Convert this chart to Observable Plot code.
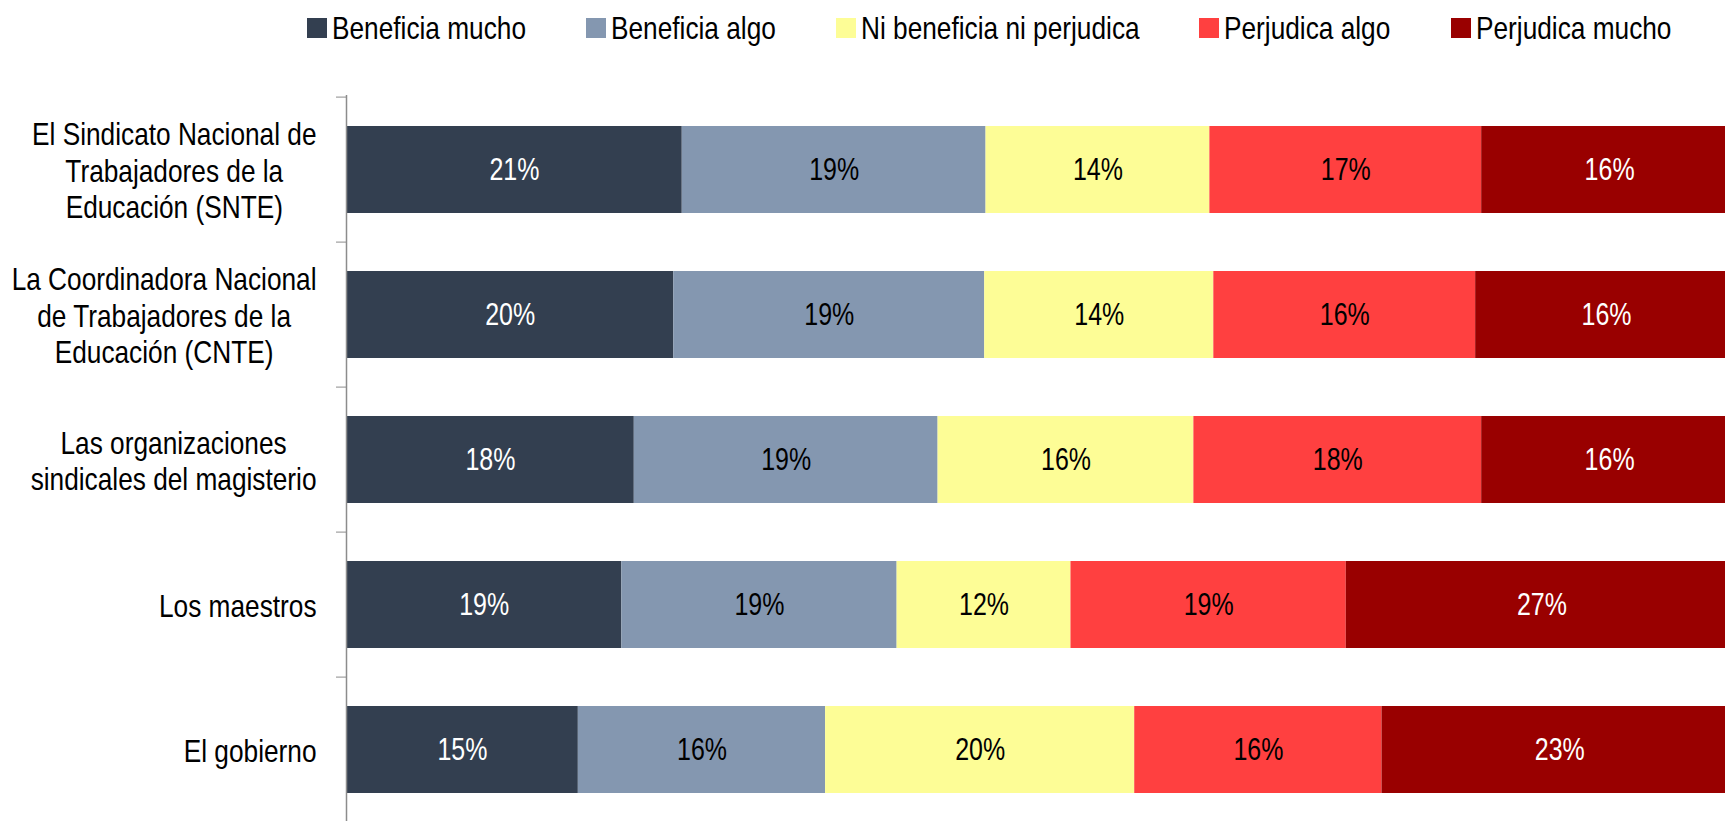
<!DOCTYPE html>
<html>
<head>
<meta charset="utf-8">
<script src="https://cdn.jsdelivr.net/npm/d3@7"></script>
<script src="https://cdn.jsdelivr.net/npm/@observablehq/plot@0.6"></script>
<style>
  html, body { margin: 0; padding: 0; background: white; overflow: hidden; }
  #legend { height: 56px; display: flex; align-items: center; padding-left: 307px; gap: 60px;
            font-family: "Liberation Sans", Arial, sans-serif; font-size: 32px; color: #000; }
  .item { display: flex; align-items: center; gap: 5px; white-space: nowrap; }
  .sw { width: 20px; height: 20px; display: inline-block; flex: none; }
  .lt { display: inline-block; overflow: visible; white-space: nowrap; }
  .lt span { display: inline-block; transform-origin: 0 50%; }
</style>
</head>
<body>
<div id="legend"></div>
<div id="chart"></div>
<script>
const FONT = '"Liberation Sans", Arial, sans-serif';
const K = 0.82;      // horizontal condensation to mimic a narrow face
const KVAL = 0.78;   // condensation for the in-bar values

const categories = [
  "El Sindicato Nacional de\nTrabajadores de la\nEducación (SNTE)",
  "La Coordinadora Nacional\nde Trabajadores de la\nEducación (CNTE)",
  "Las organizaciones\nsindicales del magisterio",
  "Los maestros",
  "El gobierno"
];
const series = ["Beneficia mucho", "Beneficia algo", "Ni beneficia ni perjudica", "Perjudica algo", "Perjudica mucho"];
const beneficiaMucho = [21, 20, 18, 19, 15];
const beneficiaAlgo  = [19, 19, 19, 19, 16];
const niBeneficia    = [14, 14, 16, 12, 20];
const perjudicaAlgo  = [17, 16, 18, 19, 16];
const perjudicaMucho = [16, 16, 16, 27, 23];
const colors = ["#333f50", "#8497b0", "#fdfd96", "#ff4040", "#990000"];
const whiteLabelSeries = new Set(["Beneficia mucho", "Perjudica mucho"]);

const seriesValues = [beneficiaMucho, beneficiaAlgo, niBeneficia, perjudicaAlgo, perjudicaMucho];
const data = [];
categories.forEach((cat, i) => {
  series.forEach((s, j) => data.push({cat, series: s, value: seriesValues[j][i]}));
});

const ctx = document.createElement("canvas").getContext("2d");
function measure(text, size) { ctx.font = `${size}px ${FONT}`; return ctx.measureText(text).width; }

// legend
const legendSize = 32;
const legend = document.getElementById("legend");
series.forEach((s, j) => {
  const it = document.createElement("div");
  it.className = "item";
  const sw = document.createElement("span");
  sw.className = "sw";
  sw.style.background = colors[j];
  const box = document.createElement("span");
  box.className = "lt";
  box.style.width = (measure(s, legendSize) * K) + "px";
  const t = document.createElement("span");
  t.textContent = s;
  t.style.transform = `scaleX(${K})`;
  box.appendChild(t);
  it.appendChild(sw); it.appendChild(box);
  legend.appendChild(it);
});

const width = 1725, height = 768, marginTop = 39, marginBottom = 0, marginLeft = 346, marginRight = -12;
const step = (height - marginTop - marginBottom) / categories.length;
const labelSize = 32, labelPad = 30, valueSize = 32;

const labelMarks = categories.map(cat => {
  const w = d3.max(cat.split("\n"), l => measure(l, labelSize)) * K;
  return Plot.text([cat], {
    y: d => d, frameAnchor: "left", text: d => d, textAnchor: "middle",
    dx: -(labelPad + w / 2), fontSize: labelSize, lineHeight: 1.13, fill: "black",
    className: "cat-label"
  });
});

const stackOpts = {offset: "normalize", x: "value", y: "cat"};
const chart = Plot.plot({
  width, height, marginTop, marginBottom, marginLeft, marginRight,
  x: {domain: [0, 1], axis: null},
  y: {domain: categories, paddingInner: 0.4, paddingOuter: 0.2, axis: null},
  color: {domain: series, range: colors},
  style: {fontFamily: FONT, background: "white", color: "black"},
  marks: [
    Plot.barX(data, Plot.stackX({...stackOpts, fill: "series"})),
    Plot.text(data, Plot.filter(d => whiteLabelSeries.has(d.series),
      Plot.stackX({...stackOpts, text: d => `${d.value}%`, fill: "white", fontSize: valueSize, className: "val"}))),
    Plot.text(data, Plot.filter(d => !whiteLabelSeries.has(d.series),
      Plot.stackX({...stackOpts, text: d => `${d.value}%`, fill: "black", fontSize: valueSize, className: "val"}))),
    Plot.ruleX([0], {stroke: "#8c8c8c", strokeWidth: 1.5}),
    Plot.axisY({tickSize: 10, tickFormat: () => "", dy: -step / 2, stroke: "#8c8c8c", label: null}),
    ...labelMarks
  ]
});
document.getElementById("chart").appendChild(chart);

// condense glyphs horizontally (no narrow face is installed)
chart.querySelectorAll("text").forEach(t => {
  const isVal = t.closest("g.val") !== null;
  const k = isVal ? KVAL : K;
  const spans = t.querySelectorAll("tspan");
  const els = spans.length ? Array.from(spans) : [t];
  els.forEach(el => {
    const len = el.getComputedTextLength();
    if (len > 0) {
      el.setAttribute("textLength", len * k);
      el.setAttribute("lengthAdjust", "spacingAndGlyphs");
    }
  });
});
</script>
</body>
</html>
